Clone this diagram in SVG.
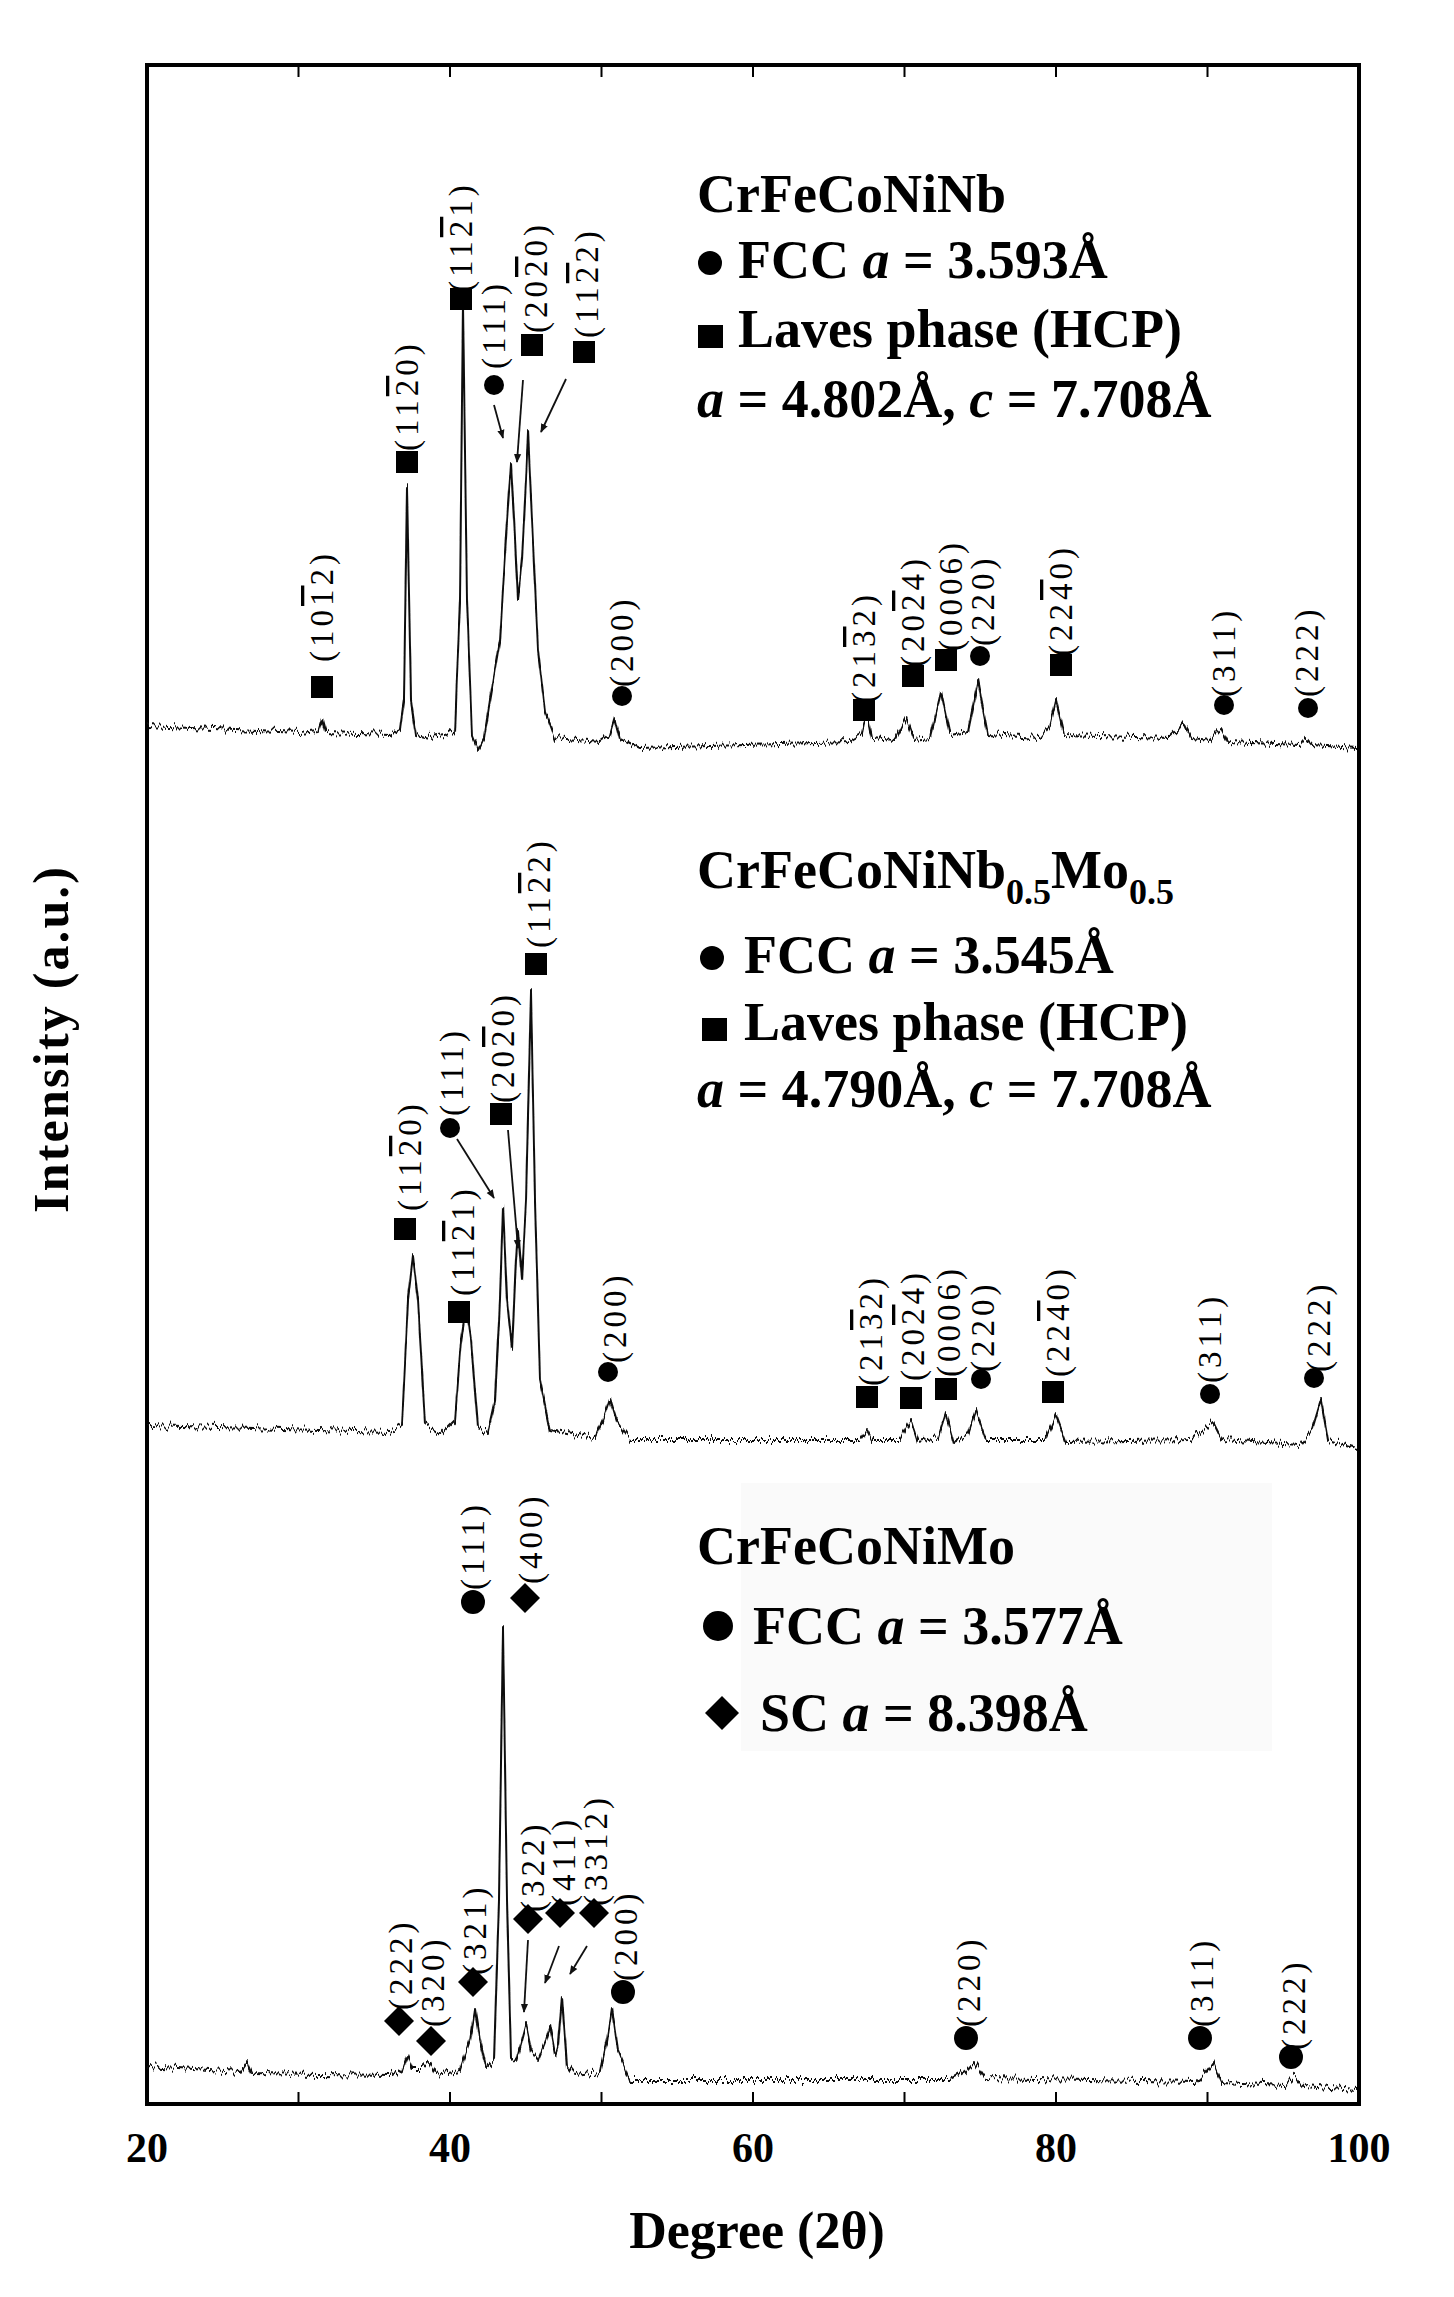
<svg xmlns="http://www.w3.org/2000/svg" width="1454" height="2297" viewBox="0 0 1454 2297">
<style>
.lbl{font-family:"Liberation Serif",serif;font-size:33px;letter-spacing:4px}
.ob{text-decoration:overline}
.leg{font-family:"Liberation Serif",serif;font-size:54px;font-weight:bold}
.ax{font-family:"Liberation Serif",serif;font-weight:bold}
.sp{fill:none;stroke:#111;stroke-width:2;stroke-linejoin:round}
.arr{stroke:#111;stroke-width:1.8;fill:none;marker-end:url(#ah)}
</style>
<defs>
<marker id="ah" viewBox="0 0 10 10" refX="9" refY="5" markerWidth="5" markerHeight="7" orient="auto" markerUnits="strokeWidth"><path d="M0,1 L10,5 L0,9 z" fill="#111"/></marker>
<filter id="nz" filterUnits="userSpaceOnUse" x="100" y="0" width="1300" height="2297">
<feTurbulence type="fractalNoise" baseFrequency="0.45 0.02" numOctaves="2" seed="3" result="t"/>
<feColorMatrix in="t" type="matrix" values="0 0 0 0 0.5  0 1 0 0 0  0 0 0 0 0  0 0 0 0 1" result="m"/>
<feDisplacementMap in="SourceGraphic" in2="m" scale="14" xChannelSelector="R" yChannelSelector="G"/>
</filter>
<rect id="sq" x="-11" y="-11" width="22" height="22" fill="#000"/>
<circle id="ci" r="10" fill="#000"/>
<circle id="cb" r="12" fill="#000"/>
<path id="di" d="M0,-15 L15,0 L0,15 L-15,0 z" fill="#000"/>
</defs>
<rect width="1454" height="2297" fill="#fff"/>
<rect x="741" y="1483" width="531" height="268" fill="#fafafa"/>
<g id="frame">
<rect x="147" y="65" width="1212" height="2039" fill="none" stroke="#000" stroke-width="4"/>
<path d="M298.5,65v12M450,65v12M601.5,65v12M753,65v12M904.5,65v12M1056,65v12M1207.5,65v12M298.5,2104v-12M450,2104v-12M601.5,2104v-12M753,2104v-12M904.5,2104v-12M1056,2104v-12M1207.5,2104v-12" stroke="#000" stroke-width="2"/>
<g class="ax" font-size="42" text-anchor="middle">
<text x="147" y="2162">20</text><text x="450" y="2162">40</text><text x="753" y="2162">60</text><text x="1056" y="2162">80</text><text x="1359" y="2162">100</text>
</g>
<text class="ax" font-size="52" x="757" y="2248" text-anchor="middle">Degree (2θ)</text>
<text class="ax" font-size="50" transform="translate(68,1040) rotate(-90)" text-anchor="middle" textLength="346" lengthAdjust="spacing">Intensity (a.u.)</text>
</g>
<g id="connectors">
<g filter="url(#nz)">
<path class="sp" d="M147,726 L300,733 L318,731 L322,718 L326,733 L390,735 L400,730 L404,700 L407,487 L411,700 L416,735 L430,738 L445,736 L455,730 L460,600 L463,303 L467,600 L472,735 L478,750 L484,738 L490,700 L500,640 L507,520 L511,462 L514,520 L518,600 L522,560 L526,480 L528,431 L532,520 L538,650 L545,710 L555,738 L600,742 L610,735 L615,718 L620,738 L640,748 L850,742 L862,735 L867,713 L872,738 L895,740 L906,718 L914,740 L930,738 L941,692 L950,735 L968,732 L978,682 L988,735 L1040,738 L1050,725 L1056,700 L1064,735 L1170,738 L1178,730 L1184,722 L1192,738 L1210,740 L1221,728 L1228,742 L1300,745 L1306,738 L1312,745 L1357,748"/>
<path class="sp" d="M147,1425 L390,1432 L402,1425 L408,1300 L413,1256 L418,1300 L425,1425 L440,1435 L455,1420 L461,1340 L466,1305 L471,1340 L478,1428 L488,1432 L495,1400 L500,1300 L503,1206 L507,1300 L512,1350 L516,1260 L518,1229 L522,1280 L526,1200 L531,991 L535,1200 L540,1380 L550,1430 L595,1438 L603,1420 L610,1399 L617,1422 L630,1440 L860,1440 L867,1430 L872,1440 L900,1440 L911,1420 L918,1442 L938,1438 L946,1413 L954,1442 L968,1435 L976,1411 L986,1440 L1045,1440 L1056,1415 L1066,1442 L1190,1440 L1205,1428 L1213,1422 L1222,1440 L1300,1445 L1312,1430 L1321,1400 L1328,1440 L1357,1448"/>
<path class="sp" d="M147,2066 L240,2072 L247,2062 L252,2074 L390,2076 L402,2070 L407,2056 L412,2068 L422,2068 L429,2062 L436,2074 L460,2070 L470,2040 L475,2008 L480,2040 L486,2068 L494,2060 L499,1900 L503,1627 L507,1900 L511,2058 L516,2062 L522,2040 L526,2025 L531,2050 L538,2060 L546,2040 L550,2027 L555,2055 L558,2045 L562,1998 L567,2065 L575,2075 L600,2072 L607,2040 L612,2008 L618,2050 L630,2080 L950,2080 L965,2072 L974,2062 L985,2078 L1195,2082 L1206,2072 L1213,2062 L1222,2082 L1285,2085 L1295,2076 L1304,2086 L1357,2090"/>
</g>
<path class="arr" d="M494,405 L503,438"/>
<path class="arr" d="M523,380 L517,462"/>
<path class="arr" d="M566,379 L541,432"/>
<path class="arr" d="M457,1139 L494,1198"/>
<path class="arr" d="M508,1130 L518,1248"/>
<path class="arr" d="M528,1940 L524,2012"/>
<path class="arr" d="M559,1946 L545,1983"/>
<path class="arr" d="M587,1946 L570,1974"/>
</g>
<g id="markers">
<use href="#sq" x="322" y="687"/><use href="#sq" x="407" y="462"/><use href="#sq" x="461" y="299"/><use href="#sq" x="532" y="345"/><use href="#sq" x="584" y="352"/><use href="#sq" x="864" y="710"/><use href="#sq" x="913" y="676"/><use href="#sq" x="946" y="660"/><use href="#sq" x="1061" y="665"/>
<use href="#ci" x="494" y="385"/><use href="#ci" x="622" y="696"/><use href="#ci" x="980" y="656"/><use href="#ci" x="1224" y="705"/><use href="#ci" x="1308" y="708"/>
<use href="#sq" x="405" y="1229"/><use href="#sq" x="459" y="1312"/><use href="#sq" x="501" y="1114"/><use href="#sq" x="536" y="964"/><use href="#sq" x="867" y="1397"/><use href="#sq" x="911" y="1398"/><use href="#sq" x="946" y="1389"/><use href="#sq" x="1053" y="1392"/>
<use href="#ci" x="450" y="1128"/><use href="#ci" x="608" y="1372"/><use href="#ci" x="981" y="1379"/><use href="#ci" x="1210" y="1394"/><use href="#ci" x="1314" y="1378"/>
<use href="#cb" x="473" y="1602"/><use href="#cb" x="623" y="1992"/><use href="#cb" x="966" y="2038"/><use href="#cb" x="1200" y="2038"/><use href="#cb" x="1291" y="2057"/>
<use href="#di" x="525" y="1598"/><use href="#di" x="399" y="2021"/><use href="#di" x="431" y="2041"/><use href="#di" x="473" y="1982"/><use href="#di" x="528" y="1919"/><use href="#di" x="560" y="1913"/><use href="#di" x="594" y="1913"/>
</g>
<g id="labels-top" class="lbl">
<text transform="translate(333,662) rotate(-90)">(10<tspan class="ob">1</tspan>2)</text>
<text transform="translate(418,451) rotate(-90)">(11<tspan class="ob">2</tspan>0)</text>
<text transform="translate(472,292) rotate(-90)">(11<tspan class="ob">2</tspan>1)</text>
<text transform="translate(505,369) rotate(-90)">(111)</text>
<text transform="translate(547,333) rotate(-90)">(20<tspan class="ob">2</tspan>0)</text>
<text transform="translate(598,338) rotate(-90)">(11<tspan class="ob">2</tspan>2)</text>
<text transform="translate(633,687) rotate(-90)">(200)</text>
<text transform="translate(875,703) rotate(-90)">(21<tspan class="ob">3</tspan>2)</text>
<text transform="translate(924,667) rotate(-90)">(20<tspan class="ob">2</tspan>4)</text>
<text transform="translate(962,651) rotate(-90)">(0006)</text>
<text transform="translate(994,646) rotate(-90)">(220)</text>
<text transform="translate(1072,656) rotate(-90)">(22<tspan class="ob">4</tspan>0)</text>
<text transform="translate(1235,697) rotate(-90)">(311)</text>
<text transform="translate(1318,697) rotate(-90)">(222)</text>
</g>
<g id="labels-mid" class="lbl">
<text transform="translate(421,1211) rotate(-90)">(11<tspan class="ob">2</tspan>0)</text>
<text transform="translate(474,1296) rotate(-90)">(11<tspan class="ob">2</tspan>1)</text>
<text transform="translate(463,1116) rotate(-90)">(111)</text>
<text transform="translate(514,1103) rotate(-90)">(20<tspan class="ob">2</tspan>0)</text>
<text transform="translate(550,948) rotate(-90)">(11<tspan class="ob">2</tspan>2)</text>
<text transform="translate(626,1363) rotate(-90)">(200)</text>
<text transform="translate(882,1386) rotate(-90)">(21<tspan class="ob">3</tspan>2)</text>
<text transform="translate(924,1381) rotate(-90)">(20<tspan class="ob">2</tspan>4)</text>
<text transform="translate(960,1377) rotate(-90)">(0006)</text>
<text transform="translate(994,1372) rotate(-90)">(220)</text>
<text transform="translate(1069,1377) rotate(-90)">(22<tspan class="ob">4</tspan>0)</text>
<text transform="translate(1221,1383) rotate(-90)">(311)</text>
<text transform="translate(1330,1372) rotate(-90)">(222)</text>
</g>
<g id="labels-bot" class="lbl">
<text transform="translate(484,1590) rotate(-90)">(111)</text>
<text transform="translate(542,1584) rotate(-90)">(400)</text>
<text transform="translate(412,2010) rotate(-90)">(222)</text>
<text transform="translate(444,2027) rotate(-90)">(320)</text>
<text transform="translate(486,1975) rotate(-90)">(321)</text>
<text transform="translate(544,1912) rotate(-90)">(322)</text>
<text transform="translate(575,1906) rotate(-90)">(411)</text>
<text transform="translate(607,1906) rotate(-90)">(3312)</text>
<text transform="translate(637,1981) rotate(-90)">(200)</text>
<text transform="translate(980,2027) rotate(-90)">(220)</text>
<text transform="translate(1213,2027) rotate(-90)">(311)</text>
<text transform="translate(1305,2050) rotate(-90)">(222)</text>
</g>
<g id="legend-top" class="leg">
<text x="697" y="212">CrFeCoNiNb</text>
<circle cx="710" cy="263" r="12"/>
<text x="738" y="278">FCC <tspan font-style="italic">a</tspan> = 3.593Å</text>
<rect x="698" y="325" width="25" height="23"/>
<text x="738" y="347">Laves phase (HCP)</text>
<text x="697" y="417"><tspan font-style="italic">a</tspan> = 4.802Å, <tspan font-style="italic">c</tspan> = 7.708Å</text>
</g>
<g id="legend-mid" class="leg">
<text x="697" y="888">CrFeCoNiNb<tspan font-size="36" dy="16">0.5</tspan><tspan dy="-16">Mo</tspan><tspan font-size="36" dy="16">0.5</tspan></text>
<circle cx="712" cy="958" r="12"/>
<text x="744" y="973">FCC <tspan font-style="italic">a</tspan> = 3.545Å</text>
<rect x="702" y="1018" width="25" height="23"/>
<text x="744" y="1040">Laves phase (HCP)</text>
<text x="697" y="1107"><tspan font-style="italic">a</tspan> = 4.790Å, <tspan font-style="italic">c</tspan> = 7.708Å</text>
</g>
<g id="legend-bot" class="leg">
<text x="697" y="1564">CrFeCoNiMo</text>
<circle cx="718" cy="1626" r="15"/>
<text x="753" y="1644">FCC <tspan font-style="italic">a</tspan> = 3.577Å</text>
<path d="M722,1696 L739,1713 L722,1730 L705,1713 z"/>
<text x="760" y="1731">SC <tspan font-style="italic">a</tspan> = 8.398Å</text>
</g>
</svg>
